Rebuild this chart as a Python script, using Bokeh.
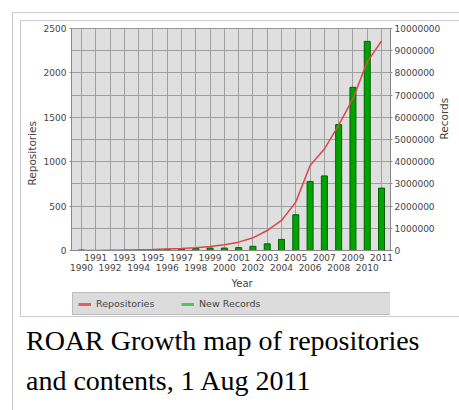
import math
from bokeh.plotting import figure
from bokeh.layouts import column
from bokeh.models import (Range1d, LinearAxis, FixedTicker, BasicTickFormatter,
                          Legend, LegendItem, Title, Div, InlineStyleSheet)
from bokeh.embed import file_html
from bokeh.resources import INLINE

# ---- data ----
years = list(range(1990, 2012))
odd_years = [y for y in years if y % 2 == 1]
even_years = [y for y in years if y % 2 == 0]
repositories = [0, 1, 3, 5, 8, 12, 17, 22, 32, 45, 64, 94, 143, 225, 338, 545,
                957, 1142, 1412, 1710, 2124, 2359]
new_records = [20000, 0, 0, 5000, 10000, 30000, 50000, 70000, 90000, 110000,
               110000, 130000, 190000, 300000, 500000, 1610000, 3110000,
               3360000, 5670000, 7350000, 9420000, 2810000]
left_ticks = [0, 500, 1000, 1500, 2000, 2500]
grid_y = list(range(0, 2501, 250))
right_ticks = list(range(0, 10000001, 1000000))
series_names = ["Repositories", "New Records"]
caption_1 = "ROAR Growth map of repositories"
caption_2 = "and contents, 1 Aug 2011"

TICK_FONT = "DejaVu Sans"
TICK_COLOR = "#444444"
W, H1, H2, H3 = 459, 292, 26, 92

frame_css = """
:host { position: relative; }
:host::before { content: ""; position: absolute; left: 12px; top: 12px;
  width: 447px; height: 398px; box-sizing: border-box;
  border-left: 1px solid #c8ccd1; border-top: 1px solid #c8ccd1;
  pointer-events: none; z-index: 50; }
:host::after { content: ""; position: absolute; left: 20px; top: 20px;
  width: 439px; height: 297px; box-sizing: border-box;
  border-left: 1px solid #c8ccd1; border-top: 1px solid #c8ccd1;
  border-bottom: 1px solid #c8ccd1; pointer-events: none; z-index: 50; }
"""

# ================= chart =================
p = figure(width=W, height=H1, output_backend="svg", toolbar_location=None,
           x_range=Range1d(1989.302, 2011.628), y_range=Range1d(0, 2500),
           min_border_left=71, min_border_right=68, min_border_top=28,
           min_border_bottom=H1 - 250)
p.extra_y_ranges = {"rec": Range1d(0, 10000000)}
p.background_fill_color = "#dfdfdf"
p.border_fill_color = "white"
p.outline_line_color = "#999999"

p.xgrid.ticker = FixedTicker(ticks=years)
p.ygrid.ticker = FixedTicker(ticks=grid_y)
p.grid.grid_line_color = "#a0a0a0"
p.grid.grid_line_width = 1

def style_axis(ax):
    ax.major_label_text_font = TICK_FONT
    ax.major_label_text_font_size = "9px"
    ax.major_label_text_color = TICK_COLOR
    ax.axis_line_color = "#888888"
    ax.major_tick_line_color = "#888888"
    ax.minor_tick_line_color = None
    ax.major_tick_in = 0

def axis_title(text, size, offset, standoff):
    return Title(text=text, align="left", offset=offset, standoff=standoff,
                 text_font=TICK_FONT, text_font_size=size,
                 text_font_style="normal", text_color=TICK_COLOR)

left = p.yaxis[0]
bx1 = p.xaxis[0]
left.ticker = FixedTicker(ticks=left_ticks)
style_axis(left)
left.major_tick_out = 2
left.major_label_standoff = 3
p.add_layout(axis_title("Repositories", "10.5px", 65, 6), "left")

right = LinearAxis(y_range_name="rec", ticker=FixedTicker(ticks=right_ticks),
                   formatter=BasicTickFormatter(use_scientific=False))
style_axis(right)
right.major_tick_out = 2
right.major_label_standoff = 2
if "axis_label_orientation" in right.properties():
    right.axis_label = "Records"
    right.axis_label_orientation = math.pi / 2
    right.axis_label_standoff = 1
    right.axis_label_text_font = TICK_FONT
    right.axis_label_text_font_size = "10.5px"
    right.axis_label_text_font_style = "normal"
    right.axis_label_text_color = TICK_COLOR
    p.add_layout(right, "right")
else:
    p.add_layout(right, "right")
    p.add_layout(axis_title("Records", "10.5px", 102, 2), "right")

bx1.ticker = FixedTicker(ticks=odd_years)
style_axis(bx1)
bx1.major_tick_out = 0
bx1.major_label_standoff = 3

bx2 = LinearAxis(ticker=FixedTicker(ticks=even_years))
style_axis(bx2)
bx2.axis_line_color = None
bx2.major_tick_line_color = None
bx2.major_tick_out = 0
bx2.major_label_standoff = 0
p.add_layout(bx2, "below")
p.add_layout(axis_title("Year", "10px", 160, 4), "below")

p.vbar(x=years, top=new_records, width=0.42, y_range_name="rec",
       fill_color="#00a400", line_color="#006000", line_width=1)
p.line(years, repositories, line_color="#d84848", line_width=1.5)

# ================= legend strip =================
q = figure(width=W, height=H2, output_backend="svg", toolbar_location=None,
           x_range=Range1d(0, 1), y_range=Range1d(0, 1),
           x_axis_location=None, y_axis_location=None,
           min_border=0, min_border_left=0, min_border_right=0,
           min_border_top=0, min_border_bottom=0)
q.grid.visible = False
q.outline_line_color = None
q.background_fill_color = "white"
q.border_fill_color = "white"

# legend keys (placed off-range so only their legend swatches show)
r1 = q.line([-5, -4], [-5, -5], line_color="#e06060", line_width=3)
r2 = q.line([-5, -4], [-5, -5], line_color="#50c850", line_width=3)
r3 = q.line([-5, -4], [-5, -5], line_alpha=0)
legend = Legend(items=[LegendItem(label=series_names[0], renderers=[r1]),
                       LegendItem(label=series_names[1], renderers=[r2]),
                       LegendItem(label=" ", renderers=[r3])],
                orientation="horizontal", location=(1, 3),
                padding=5, spacing=2, margin=0, glyph_width=13, glyph_height=10,
                label_height=10, label_width=83, label_standoff=5,
                label_text_font=TICK_FONT, label_text_font_size="9.5px",
                label_text_color=TICK_COLOR, background_fill_color="#dcdcdc",
                background_fill_alpha=1, border_line_color="#999999")
q.add_layout(legend)

# ================= caption =================
caption = Div(
    text=('<div style="font-family:\'Liberation Serif\',serif;font-size:28px;'
          'line-height:40px;padding:3px 0 0 26px;color:#000;white-space:nowrap;">'
          + caption_1 + '<br>' + caption_2 + '</div>'),
    width=W, height=H3, margin=0)

layout = column(p, q, caption, spacing=0,
                stylesheets=[InlineStyleSheet(css=frame_css)])

open("out.html", "w").write(file_html(layout, INLINE))
